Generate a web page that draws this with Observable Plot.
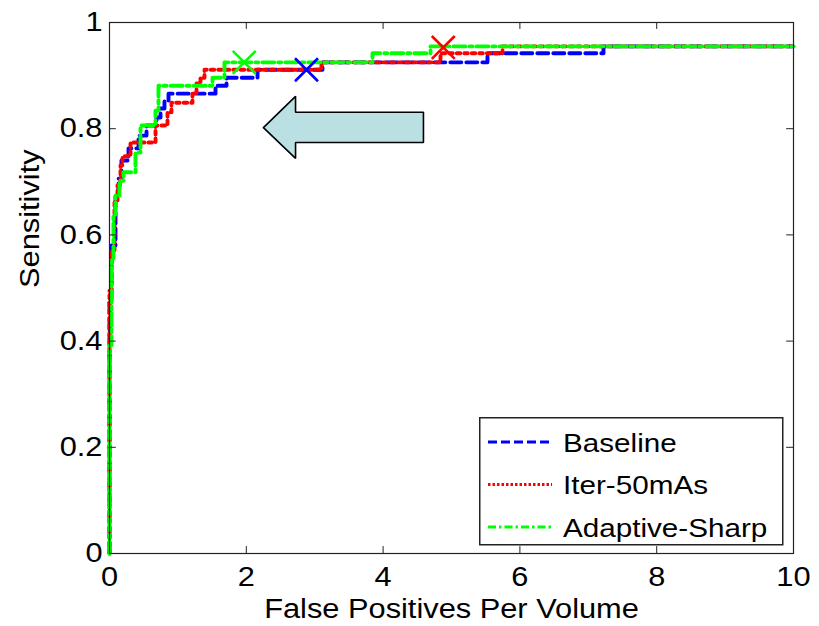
<!DOCTYPE html>
<html><head><meta charset="utf-8">
<script src="https://cdn.jsdelivr.net/npm/d3@7"></script>
<script src="https://cdn.jsdelivr.net/npm/@observablehq/plot@0.6"></script>
<style>
body{margin:0;background:#fff;}
#wrap{position:relative;width:819px;height:626px;}
#legend{position:absolute;left:479px;top:417px;}
</style></head><body>
<div id="wrap"></div>
<script>
// ---- data ----
const seriesNames = ["Baseline", "Iter-50mAs", "Adaptive-Sharp"];
const seriesColors = ["#0000ff", "#ff0000", "#00ff00"];
const seriesDash = ["11,5", "3.5,4", "12,4,3,4"];
const legendDash = ["9,4", "2.5,2", "8,3,2.5,3"];

const baselineFP   = [0, 0, 0.029, 0.088, 0.132, 0.175, 0.278, 0.424, 0.541, 0.687, 0.746, 0.804, 0.863, 1.550, 1.711, 2.164, 3.114, 5.526, 7.222, 10];
const baselineSens = [0, 0.476, 0.580, 0.674, 0.706, 0.740, 0.763, 0.787, 0.806, 0.821, 0.838, 0.853, 0.866, 0.881, 0.896, 0.911, 0.925, 0.942, 0.955, 0.955];

const iterFP   = [0, 0, 0.029, 0.073, 0.117, 0.161, 0.190, 0.307, 0.673, 0.848, 0.906, 1.213, 1.272, 1.330, 1.389, 3.099, 4.839, 5.746, 10];
const iterSens = [0, 0.495, 0.571, 0.665, 0.693, 0.731, 0.748, 0.774, 0.806, 0.831, 0.849, 0.866, 0.885, 0.896, 0.911, 0.925, 0.942, 0.955, 0.955];

const adaptiveFP   = [0, 0, 0.029, 0.058, 0.088, 0.146, 0.205, 0.380, 0.453, 0.672, 0.716, 1.506, 1.681, 3.845, 4.693, 10];
const adaptiveSens = [0, 0.392, 0.552, 0.637, 0.674, 0.702, 0.718, 0.755, 0.806, 0.834, 0.881, 0.896, 0.925, 0.942, 0.955, 0.955];

// operating points (X markers), in series order
const operatingFP   = [2.88, 4.88, 1.97];
const operatingSens = [0.911, 0.953, 0.925];

const xTicks = [0, 2, 4, 6, 8, 10];
const yTicks = [0, 0.2, 0.4, 0.6, 0.8, 1];
const xLabel = "False Positives Per Volume";
const yLabel = "Sensitivity";

// annotation arrow outline (data units)
const arrowFP   = [2.25, 2.72, 2.72, 4.59, 4.59, 2.72, 2.72, 2.25];
const arrowSens = [0.802, 0.861, 0.831, 0.831, 0.774, 0.774, 0.744, 0.802];

// ---- build tables ----
const curves = [
  [baselineFP, baselineSens],
  [iterFP, iterSens],
  [adaptiveFP, adaptiveSens]
].map(([fp, s], i) => fp.map((x, j) => ({fp: x, sens: s[j], series: seriesNames[i]})));
const ops = operatingFP.map((x, i) => ({fp: x, sens: operatingSens[i], series: seriesNames[i], color: seriesColors[i]}));
const arrow = arrowFP.map((x, i) => ({fp: x, sens: arrowSens[i]}));

const FONT = "'Liberation Sans', Arial, Helvetica, sans-serif";
const fmt = d3.format("~g");

const chart = Plot.plot({
  width: 819,
  height: 626,
  marginLeft: 109,
  marginRight: 26,
  marginTop: 22,
  marginBottom: 73,
  style: {fontFamily: FONT, fontSize: "27px", background: "#fff", color: "#000", overflow: "visible"},
  x: {domain: [0, 10]},
  y: {domain: [0, 1]},
  marks: [
    Plot.line(arrow, {x: "fp", y: "sens", fill: "#bbe0e3", stroke: "#000", strokeWidth: 1.6, strokeLinejoin: "miter"}),
    ...curves.map((c, i) => Plot.line(c, {
      x: "fp", y: "sens", curve: "step-after",
      stroke: seriesColors[i], strokeWidth: 3.9, strokeDasharray: seriesDash[i]
    })),
    Plot.dot(ops, {x: "fp", y: "sens", symbol: "times", r: 10.5, stroke: "color", strokeWidth: 2.6}),
    Plot.frame({stroke: "#222", strokeWidth: 1.2}),
    // inward ticks
    Plot.ruleX(xTicks, {x: d => d, y1: 0, y2: 0.013, stroke: "#222"}),
    Plot.ruleX(xTicks, {x: d => d, y1: 1, y2: 0.987, stroke: "#222"}),
    Plot.ruleY(yTicks, {y: d => d, x1: 0, x2: 0.1, stroke: "#222"}),
    Plot.ruleY(yTicks, {y: d => d, x1: 10, x2: 9.9, stroke: "#222"}),
    Plot.axisX({ticks: xTicks, tickSize: 0, tickPadding: 13, tickFormat: fmt, label: null, fontSize: 27}),
    Plot.axisY({ticks: yTicks, tickSize: 0, tickPadding: 7, tickFormat: fmt, label: null, fontSize: 27}),
    Plot.text([xLabel], {frameAnchor: "bottom", dy: 56, text: d => d, fontSize: 27, lineAnchor: "middle"}),
    Plot.text([yLabel], {frameAnchor: "left", dx: -79, rotate: -90, text: d => d, fontSize: 27, lineAnchor: "middle"})
  ]
});

const wrap = document.getElementById("wrap");
wrap.appendChild(chart);

// ---- legend (overlay inside plot area) ----
const lg = d3.select(wrap).append("svg")
  .attr("id", "legend").attr("width", 306).attr("height", 130)
  .style("font-family", FONT);
lg.append("rect").attr("x", 0.75).attr("y", 0.75).attr("width", 303).attr("height", 127)
  .attr("fill", "#fff").attr("stroke", "#222").attr("stroke-width", 1.5);
seriesNames.forEach((name, i) => {
  const cy = 25 + i * 42.5;
  lg.append("line").attr("x1", 9).attr("x2", 73).attr("y1", cy).attr("y2", cy)
    .attr("stroke", seriesColors[i]).attr("stroke-width", 3).attr("stroke-dasharray", legendDash[i]);
  lg.append("text").attr("x", 84).attr("y", cy + 9.5).attr("font-size", 26).attr("fill", "#000").text(name);
});

// the reference typeface is a little wider than Arial: widen glyphs slightly
wrap.querySelectorAll("text").forEach(t => {
  const len = t.getComputedTextLength();
  if (len > 0) {
    t.setAttribute("textLength", (len * 1.14).toFixed(1));
    t.setAttribute("lengthAdjust", "spacingAndGlyphs");
  }
});
</script>
</body></html>
